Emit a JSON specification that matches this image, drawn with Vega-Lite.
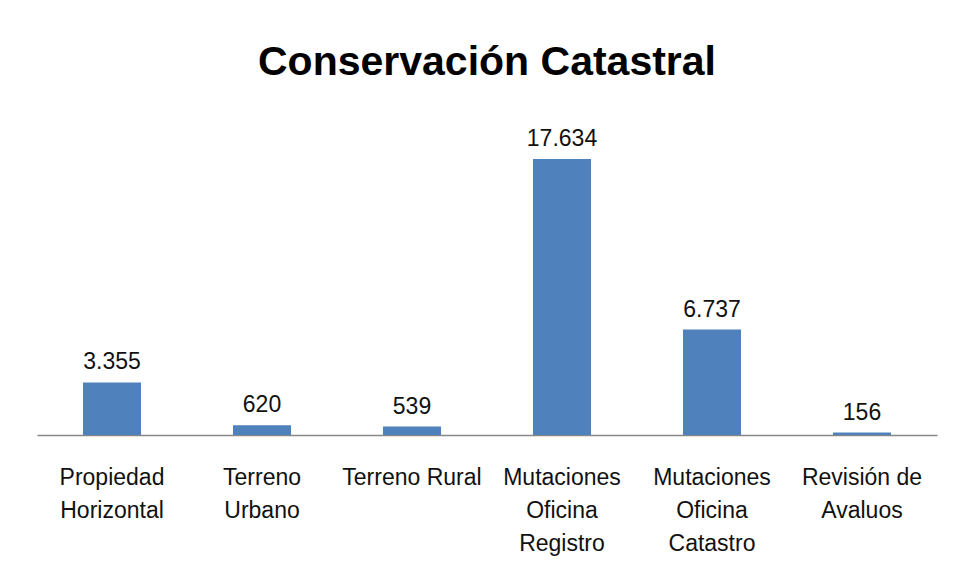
{
  "$schema": "https://vega.github.io/schema/vega-lite/v6.json",
  "width": 900,
  "height": 313,
  "autosize": {"type": "none"},
  "padding": {"left": 37, "top": 122, "right": 19, "bottom": 144},
  "background": "white",
  "config": {
    "view": {"stroke": null},
    "font": "Liberation Sans",
    "locale": {"number": {"decimal": ",", "thousands": ".", "grouping": [3], "currency": ["", ""]}}
  },
  "title": {
    "text": "Conservación Catastral",
    "fontSize": 41,
    "fontWeight": "bold",
    "font": "Liberation Sans",
    "color": "black",
    "anchor": "middle",
    "baseline": "alphabetic",
    "offset": 6
  },
  "data": {
    "values": [
      {"categoria": "Propiedad|Horizontal", "valor": 3355},
      {"categoria": "Terreno|Urbano", "valor": 620},
      {"categoria": "Terreno Rural", "valor": 539},
      {"categoria": "Mutaciones|Oficina|Registro", "valor": 17634},
      {"categoria": "Mutaciones|Oficina|Catastro", "valor": 6737},
      {"categoria": "Revisión de|Avaluos", "valor": 156}
    ]
  },
  "encoding": {
    "x": {
      "field": "categoria",
      "type": "nominal",
      "sort": null,
      "scale": {"paddingInner": 0.613, "paddingOuter": 0.3065},
      "axis": {
        "title": null,
        "labelAngle": 0,
        "ticks": false,
        "domainColor": "#888888",
        "domainWidth": 1.5,
        "labelFontSize": 23,
        "labelColor": "#111111",
        "labelLineHeight": 33,
        "labelPadding": 31,
        "labelLimit": 0,
        "labelExpr": "split(datum.value, '|')"
      }
    },
    "y": {
      "field": "valor",
      "type": "quantitative",
      "scale": {"domain": [0, 20000]},
      "axis": null
    }
  },
  "layer": [
    {"mark": {"type": "bar", "color": "#4F81BD"}},
    {
      "mark": {"type": "text", "dy": -13, "baseline": "alphabetic", "fontSize": 23, "color": "#111111"},
      "encoding": {"text": {"field": "valor", "type": "quantitative", "format": ",d"}}
    }
  ]
}
